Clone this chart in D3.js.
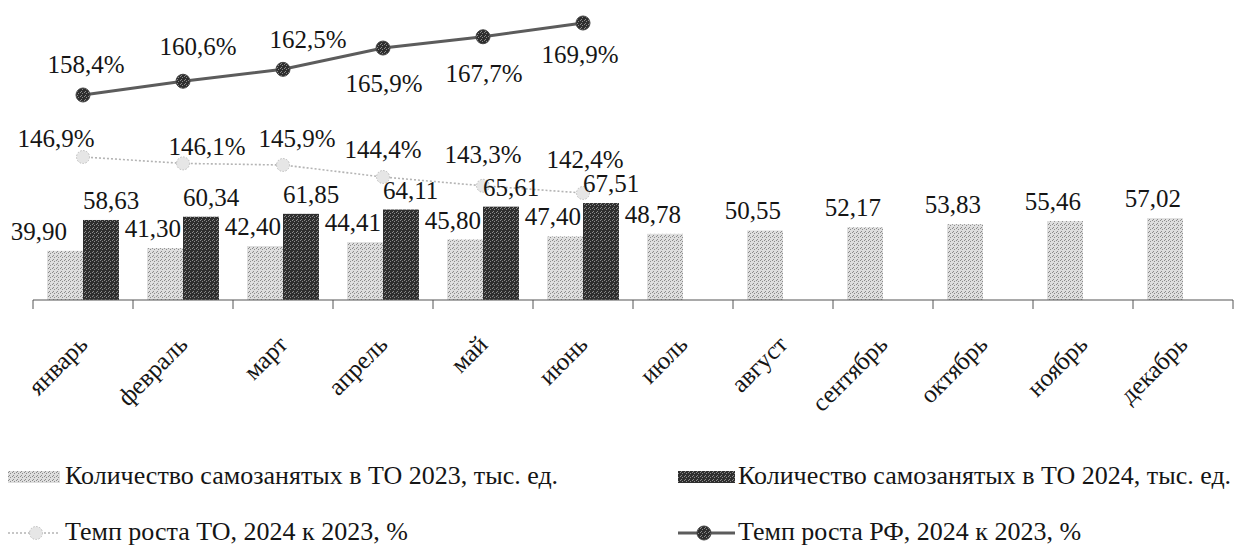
<!DOCTYPE html>
<html>
<head>
<meta charset="utf-8">
<script src="https://cdnjs.cloudflare.com/ajax/libs/d3/7.8.5/d3.min.js"></script>
<style>
body { margin: 0; background: #fff; }
</style>
</head>
<body>
<script>
// Categories
var months = ['январь', 'февраль', 'март', 'апрель', 'май', 'июнь',
              'июль', 'август', 'сентябрь', 'октябрь', 'ноябрь', 'декабрь'];
// Self-employed, thousands
var count2023 = [39.90, 41.30, 42.40, 44.41, 45.80, 47.40, 48.78, 50.55, 52.17, 53.83, 55.46, 57.02];
var count2024 = [58.63, 60.34, 61.85, 64.11, 65.61, 67.51];
// Growth rates, %
var rateTO = [146.9, 146.1, 145.9, 144.4, 143.3, 142.4];
var rateRF = [158.4, 160.6, 162.5, 165.9, 167.7, 169.9];
// Legend names
var legendNames = ['Количество самозанятых в ТО 2023, тыс. ед.',
                   'Количество самозанятых в ТО 2024, тыс. ед.',
                   'Темп роста ТО, 2024 к 2023, %',
                   'Темп роста РФ, 2024 к 2023, %'];

var serif = "Liberation Serif";
var fmt = d => d.toFixed(2).replace('.', ',');
var fmtPct = d => d.toFixed(1).replace('.', ',') + '%';

var svg = d3.select("body").append("svg")
  .attr("width", 1241)
  .attr("height", 547)
  .style("font-family", serif);

// dithered fills, like the scanned print
var defs = svg.append("defs");
function dots(id, bg, fg) {
  var p = defs.append("pattern").attr("id", id)
    .attr("width", 4).attr("height", 4).attr("patternUnits", "userSpaceOnUse");
  p.append("rect").attr("width", 4).attr("height", 4).attr("fill", bg);
  [[0, 0], [2, 1], [1, 3]].forEach(c => p.append("rect")
    .attr("x", c[0]).attr("y", c[1]).attr("width", 1).attr("height", 1).attr("fill", fg));
}
dots("light", "#dedede", "#8c8c8c");
dots("dark", "#2e2e2e", "#8a8a8a");

var x = d3.scaleBand().domain(months).range([33, 1233]);
var xSub = d3.scaleBand().domain(['2023', '2024'])
  .range([0, x.bandwidth()]).paddingOuter(0.39);

// bars of the two years sit on slightly different axes in the original
var yLight = d3.scaleLinear().domain([14.1, 66.5]).range([300, 200]);
var yDark = d3.scaleLinear().domain([16.7, 69.1]).range([300, 200]);
var yRF = d3.scaleLinear().domain([158.4, 169.9]).range([95, 23]);
var yTO = d3.scaleLinear().domain([146.9, 142.4]).range([157, 193]);

// Bars 2023
svg.selectAll("rect.y2023")
   .data(count2023)
   .enter().append("rect")
     .attr("class", "y2023")
     .attr("x", (d, i) => x(months[i]) + xSub('2023'))
     .attr("y", d => yLight(d))
     .attr("width", xSub.bandwidth())
     .attr("height", d => 300 - yLight(d))
     .attr("fill", "url(#light)");

// Bars 2024
svg.selectAll("rect.y2024")
   .data(count2024)
   .enter().append("rect")
     .attr("class", "y2024")
     .attr("x", (d, i) => x(months[i]) + xSub('2024'))
     .attr("y", d => yDark(d))
     .attr("width", xSub.bandwidth())
     .attr("height", d => 300 - yDark(d))
     .attr("fill", "url(#dark)");

// Axis line and ticks between categories
svg.append("line")
   .attr("x1", x.range()[0]).attr("x2", x.range()[1])
   .attr("y1", 300).attr("y2", 300)
   .attr("stroke", "#555").attr("stroke-width", 1.2);

svg.selectAll("line.tick")
   .data(months.map(m => x(m)).concat([x.range()[1]]))
   .enter().append("line")
     .attr("class", "tick")
     .attr("x1", d => d).attr("x2", d => d)
     .attr("y1", 300).attr("y2", 309)
     .attr("stroke", "#555");

var xAxis = d3.axisBottom(x).tickSize(0);
svg.append("g")
   .attr("transform", "translate(0, 300)")
   .call(xAxis)
   .call(g => g.select(".domain").remove())
   .selectAll("text")
     .style("font-family", serif)
     .style("font-size", "25px")
     .attr("fill", "#151515")
     .attr("y", 0).attr("dy", 0)
     .attr("text-anchor", "end")
     .attr("transform", "translate(6, 46) rotate(-45)");

// Line TO (light, dotted)
var lineTO = d3.line().x((d, i) => x(months[i]) + x.bandwidth() / 2).y(d => yTO(d));
svg.append("path")
   .datum(rateTO)
   .attr("d", lineTO)
   .attr("fill", "none")
   .attr("stroke", "#b4b4b4")
   .attr("stroke-width", 1.6)
   .attr("stroke-dasharray", "2,2");

svg.selectAll("circle.to")
   .data(rateTO)
   .enter().append("circle")
     .attr("class", "to")
     .attr("cx", (d, i) => x(months[i]) + x.bandwidth() / 2)
     .attr("cy", d => yTO(d))
     .attr("r", 6.5)
     .attr("fill", "#e6e6e6")
     .attr("stroke", "#bdbdbd")
     .attr("stroke-dasharray", "1.5,1.5");

// Line RF (dark)
var lineRF = d3.line().x((d, i) => x(months[i]) + x.bandwidth() / 2).y(d => yRF(d));
svg.append("path")
   .datum(rateRF)
   .attr("d", lineRF)
   .attr("fill", "none")
   .attr("stroke", "#5c5c5c")
   .attr("stroke-width", 3);

svg.selectAll("circle.rf")
   .data(rateRF)
   .enter().append("circle")
     .attr("class", "rf")
     .attr("cx", (d, i) => x(months[i]) + x.bandwidth() / 2)
     .attr("cy", d => yRF(d))
     .attr("r", 7)
     .attr("fill", "url(#dark)")
     .attr("stroke", "#444");

// Bar labels
svg.selectAll("text.l2023")
   .data(count2023)
   .enter().append("text")
     .attr("class", "l2023")
     .attr("x", (d, i) => x(months[i]) + xSub('2024') - (i == 0 ? 16 : 2))
     .attr("y", d => yLight(d) - 11)
     .attr("text-anchor", "end")
     .attr("font-size", 25)
     .attr("fill", "#151515")
     .text(fmt);

svg.selectAll("text.l2024")
   .data(count2024)
   .enter().append("text")
     .attr("class", "l2024")
     .attr("x", (d, i) => x(months[i]) + xSub('2024'))
     .attr("y", d => yDark(d) - 11)
     .attr("text-anchor", "start")
     .attr("font-size", 25)
     .attr("fill", "#151515")
     .text(fmt);

// Rate labels (nudged like the original)
var toShift = [[-27, -10], [24, -8], [14, -18], [0, -19], [0, -23], [2, -25]];
svg.selectAll("text.lto")
   .data(rateTO)
   .enter().append("text")
     .attr("class", "lto")
     .attr("x", (d, i) => x(months[i]) + x.bandwidth() / 2 + toShift[i][0])
     .attr("y", (d, i) => yTO(d) + toShift[i][1])
     .attr("text-anchor", "middle")
     .attr("font-size", 25)
     .attr("fill", "#151515")
     .text(fmtPct);

var rfShift = [[3, -22], [15, -26], [25, -21], [1, 44], [1, 45], [-3, 40]];
svg.selectAll("text.lrf")
   .data(rateRF)
   .enter().append("text")
     .attr("class", "lrf")
     .attr("x", (d, i) => x(months[i]) + x.bandwidth() / 2 + rfShift[i][0])
     .attr("y", (d, i) => yRF(d) + rfShift[i][1])
     .attr("text-anchor", "middle")
     .attr("font-size", 25)
     .attr("fill", "#151515")
     .text(fmtPct);

// Legend
var legend = svg.append("g");
var legX = [8, 678];
var legY = [477, 533];

legend.append("rect").attr("x", legX[0]).attr("y", legY[0] - 6)
  .attr("width", 52).attr("height", 12).attr("fill", "url(#light)");
legend.append("rect").attr("x", legX[1]).attr("y", legY[0] - 6)
  .attr("width", 57).attr("height", 12).attr("fill", "url(#dark)");

legend.append("line").attr("x1", legX[0]).attr("x2", legX[0] + 52)
  .attr("y1", legY[1]).attr("y2", legY[1])
  .attr("stroke", "#b4b4b4").attr("stroke-width", 1.6).attr("stroke-dasharray", "2,2");
legend.append("circle").attr("cx", legX[0] + 28).attr("cy", legY[1]).attr("r", 6.5)
  .attr("fill", "#e6e6e6").attr("stroke", "#bdbdbd").attr("stroke-dasharray", "1.5,1.5");

legend.append("line").attr("x1", legX[1]).attr("x2", legX[1] + 57)
  .attr("y1", legY[1]).attr("y2", legY[1])
  .attr("stroke", "#5c5c5c").attr("stroke-width", 3);
legend.append("circle").attr("cx", legX[1] + 26).attr("cy", legY[1]).attr("r", 7)
  .attr("fill", "url(#dark)").attr("stroke", "#444");

legend.selectAll("text")
  .data(legendNames)
  .enter().append("text")
    .attr("x", (d, i) => i % 2 == 0 ? 65 : 738)
    .attr("y", (d, i) => (i < 2 ? legY[0] : legY[1]) + 7)
    .attr("font-size", 26)
    .attr("fill", "#151515")
    .text(d => d);
</script>
</body>
</html>
